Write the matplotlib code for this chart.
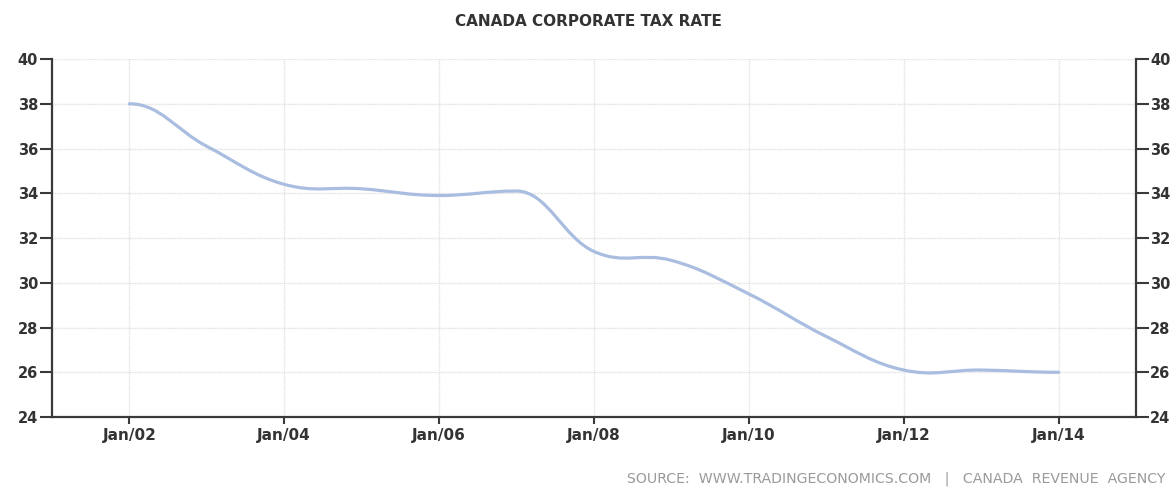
"""Canada corporate tax rate, 2002-2014 (Trading Economics style)."""
from datetime import datetime

import matplotlib
matplotlib.use("Agg")
import matplotlib.pyplot as plt
import matplotlib.dates as mdates
from matplotlib.path import Path
from matplotlib.patches import PathPatch
import numpy as np

years = [2002, 2003, 2004, 2005, 2006, 2007, 2008, 2009, 2010, 2011, 2012, 2013, 2014]
rate = [38.0, 36.1, 34.4, 34.2, 33.9, 34.1, 31.4, 31.0, 29.5, 27.6, 26.1, 26.1, 26.0]
tick_years = [2002, 2004, 2006, 2008, 2010, 2012, 2014]
yticks = [24, 26, 28, 30, 32, 34, 36, 38, 40]

LINE = "#a9bde0"
AXIS = "#3a3a3a"
TXT = "#333333"
GRID = "#e3e3e3"

plt.rcParams.update({"font.family": ["DejaVu Sans"]})

x = mdates.date2num([datetime(y, 1, 1) for y in years])
y = np.array(rate)


# smooth spline path, like the original chart's curve
def spline_path(xs, ys, smoothing=1.5):
    verts = [(xs[0], ys[0])]
    codes = [Path.MOVETO]
    n = len(xs)
    slopes = np.zeros(n)
    for i in range(1, n - 1):
        slopes[i] = (ys[i + 1] - ys[i - 1]) / (xs[i + 1] - xs[i - 1])
        lo, hi = sorted((ys[i - 1], ys[i + 1]))
        if not (lo <= ys[i] <= hi):
            slopes[i] = 0.0
    for i in range(n - 1):
        d = (xs[i + 1] - xs[i]) / (smoothing + 1)
        c1 = (xs[i] + d, ys[i] + slopes[i] * d)
        c2 = (xs[i + 1] - d, ys[i + 1] - slopes[i + 1] * d)
        verts += [c1, c2, (xs[i + 1], ys[i + 1])]
        codes += [Path.CURVE4] * 3
    return Path(verts, codes)


fig = plt.figure(figsize=(11.76, 4.87), dpi=100)
ax = fig.add_axes([0.0442, 0.1437, 0.9218, 0.7351])

ax.add_patch(PathPatch(spline_path(x, y), fill=False, edgecolor=LINE,
                       linewidth=2.3, capstyle="round", joinstyle="round", zorder=3))
ax.plot(x, y, alpha=0)  # keep autoscale honest

ax.set_xlim(mdates.date2num(datetime(2001, 1, 1)), mdates.date2num(datetime(2015, 1, 1)))
ax.set_ylim(24, 40)

ax.set_xticks(mdates.date2num([datetime(t, 1, 1) for t in tick_years]))
ax.xaxis.set_major_formatter(mdates.DateFormatter("%b/%y"))
ax.set_yticks(yticks)

ax.grid(True, color=GRID, linewidth=1.0, linestyle=(0, (1, 0.6)))
ax.set_axisbelow(True)

for side in ("left", "right", "bottom"):
    ax.spines[side].set_color(AXIS)
    ax.spines[side].set_linewidth(1.6)
ax.spines["top"].set_visible(False)

ax.tick_params(axis="y", left=True, right=True, labelleft=True, labelright=True,
               length=9, width=1.5, color=AXIS, direction="out",
               labelsize=10.5, labelcolor=TXT, pad=1)
ax.tick_params(axis="x", length=5, width=1.5, color=AXIS, direction="out",
               labelsize=11, labelcolor=TXT, pad=3)
for lab in ax.get_xticklabels():
    lab.set_fontweight("bold")
for t in ax.yaxis.get_major_ticks():
    t.label1.set_fontweight("bold")
    t.label2.set_fontweight("bold")
    t.label2.set_color(TXT)

fig.text(0.5, 0.955, "CANADA CORPORATE TAX RATE", ha="center", va="center",
         fontsize=11, fontweight="bold", color=TXT)
fig.text(0.991, 0.016, "SOURCE:  WWW.TRADINGECONOMICS.COM   |   CANADA  REVENUE  AGENCY",
         ha="right", va="center", fontsize=10.2, color="#9a9a9a")

fig.savefig("out.png", dpi=100)
